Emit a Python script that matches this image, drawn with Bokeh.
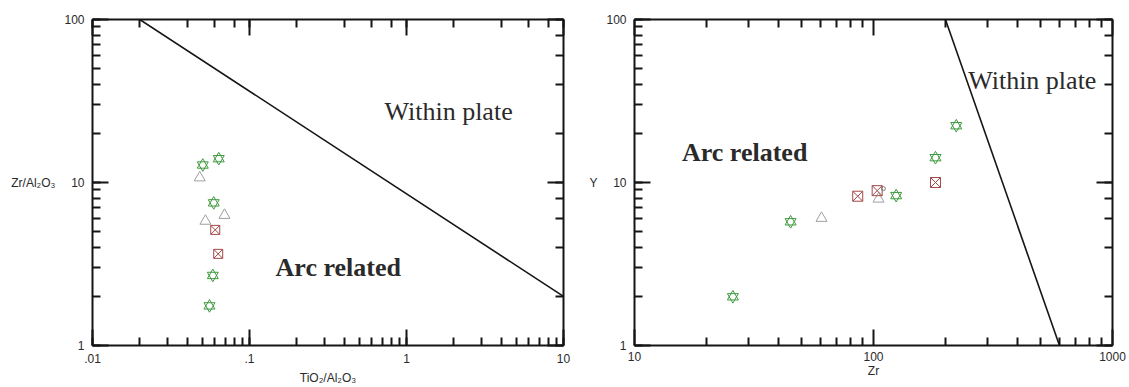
from bokeh.plotting import figure
from bokeh.layouts import row
from bokeh.models import Range1d, LogAxis, CustomJSTickFormatter, Label, FixedTicker
from bokeh.embed import file_html
from bokeh.resources import INLINE

# ---- Left diagram: TiO2/Al2O3 vs Zr/Al2O3 ----
l_star_x = [0.0637, 0.0504, 0.0592, 0.0584, 0.0556]
l_star_y = [14.0, 12.8, 7.5, 2.69, 1.75]
l_tri_x = [0.0482, 0.0693, 0.0524]
l_tri_y = [10.7, 6.3, 5.8]
l_sq_x = [0.0605, 0.0632]
l_sq_y = [5.12, 3.65]
l_bound_x = [0.02, 10]
l_bound_y = [100, 2]

# ---- Right diagram: Zr vs Y ----
r_star_x = [25.8, 45, 124.4, 181.7, 222]
r_star_y = [1.99, 5.74, 8.31, 14.2, 22.3]
r_tri_x = [60.6, 105]
r_tri_y = [6.04, 7.93]
r_sq_x = [85.9, 103.6, 181.7]
r_sq_y = [8.24, 8.91, 10.0]
r_dot_x = [110]
r_dot_y = [9.17]
r_bound_x = [200, 600]
r_bound_y = [100, 1]

# tick positions for the Zr axis (decades 10-1000)
r_major_ticks = [10, 100, 1000]
r_minor_ticks = [k * d for d in (10, 100) for k in range(2, 10)]

GREEN = "#3f9a3f"
RED = "#a34848"
GRAY = "#a0a0a0"
INK = "#151515"
TXT = "#2a2a2a"

label_fmt = CustomJSTickFormatter(code="""
    var s = String(Number(tick.toPrecision(6)));
    if (s.indexOf('0.') === 0) { s = s.slice(1); }
    return s;
""")


def style_axis(ax):
    ax.axis_line_width = 2
    ax.axis_line_color = INK
    ax.major_tick_in = 16
    ax.major_tick_out = 0
    ax.minor_tick_in = 8
    ax.minor_tick_out = 0
    ax.major_tick_line_width = 2
    ax.minor_tick_line_width = 2
    ax.major_tick_line_color = INK
    ax.minor_tick_line_color = INK


def make_fig(width, height, xr, yr, mb):
    p = figure(width=width, height=height, x_axis_type="log", y_axis_type="log",
               x_range=Range1d(*xr), y_range=Range1d(*yr),
               output_backend="svg", toolbar_location=None,
               min_border_left=mb[0], min_border_right=mb[1],
               min_border_top=mb[2], min_border_bottom=mb[3])
    p.grid.visible = False
    p.outline_line_color = None
    p.background_fill_color = "white"
    p.border_fill_color = "white"
    for side in ("above", "right"):
        ax = LogAxis()
        ax.formatter = CustomJSTickFormatter(code="return '';")
        ax.major_label_text_font_size = "0px"
        ax.major_label_standoff = 0
        style_axis(ax)
        p.add_layout(ax, side)
    for ax in (p.below[0], p.left[0]):
        style_axis(ax)
        ax.formatter = label_fmt
        ax.major_label_text_font = "Liberation Sans"
        ax.major_label_text_font_size = "12px"
        ax.major_label_text_color = TXT
        ax.major_label_standoff = 8
        ax.axis_label_text_font = "Liberation Sans"
        ax.axis_label_text_font_size = "12px"
        ax.axis_label_text_font_style = "normal"
        ax.axis_label_text_color = TXT
        ax.axis_label_standoff = 5
    p.left[0].axis_label_orientation = "horizontal"
    p.left[0].axis_label_standoff = 6
    return p


def hexagram(p, xs, ys):
    for m in ("triangle", "inverted_triangle"):
        p.scatter(xs, ys, marker=m, size=11, fill_color=None,
                  line_color=GREEN, line_width=1)


def label(p, x, y, text, bold=False):
    p.add_layout(Label(x=x, y=y, text=text, text_align="left",
                       text_baseline="alphabetic",
                       text_font="Liberation Serif", text_font_size="26px",
                       text_font_style="bold" if bold else "normal",
                       text_color=TXT))


# Left
p1 = make_fig(580, 387, (0.01, 10), (1, 100), (92, 17, 16, 41))
p1.below[0].axis_label = "TiO₂/Al₂O₃"
p1.left[0].axis_label = "Zr/Al₂O₃"
p1.line(l_bound_x, l_bound_y, line_color=INK, line_width=1.6)
hexagram(p1, l_star_x, l_star_y)
p1.scatter(l_tri_x, l_tri_y, marker="triangle", size=11, fill_color=None,
           line_color=GRAY, line_width=1)
p1.scatter(l_sq_x, l_sq_y, marker="square_x", size=9, fill_color=None,
           line_color=RED, line_width=1)
label(p1, 0.724, 27.2, "Within plate")
label(p1, 0.1465, 3.01, "Arc related", bold=True)

# Right
p2 = make_fig(549, 387, (10, 1000), (1, 100), (54, 17, 19, 35))
for ax in (p2.below[0], p2.above[0]):
    ax.ticker = FixedTicker(ticks=r_major_ticks, minor_ticks=r_minor_ticks)
p2.below[0].axis_label = "Zr"
p2.left[0].axis_label = "Y"
p2.below[0].axis_label_standoff = 0
p2.below[0].major_label_standoff = 6
p2.line(r_bound_x, r_bound_y, line_color=INK, line_width=1.6)
hexagram(p2, r_star_x, r_star_y)
p2.scatter(r_tri_x, r_tri_y, marker="triangle", size=11, fill_color=None,
           line_color=GRAY, line_width=1)
p2.scatter(r_sq_x, r_sq_y, marker="square_x", size=10, fill_color=None,
           line_color=RED, line_width=1)
p2.scatter(r_dot_x, r_dot_y, marker="circle", size=4, fill_color=None,
           line_color="#777777", line_width=1)
label(p2, 15.8, 15.2, "Arc related", bold=True)
label(p2, 249, 42.5, "Within plate")

layout = row(p1, p2)
open("out.html", "w").write(file_html(layout, INLINE))
